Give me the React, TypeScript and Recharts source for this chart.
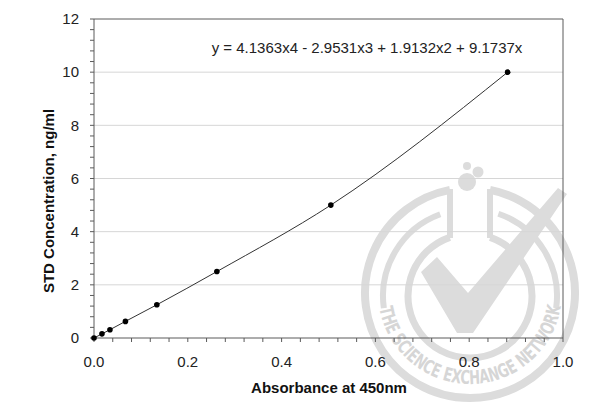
import React from "react";
import {
  CartesianGrid,
  Line,
  LineChart,
  ReferenceLine,
  XAxis,
  YAxis,
} from "recharts";

// Standard curve points.
const absorbance = [0, 0.017, 0.034, 0.067, 0.134, 0.262, 0.505, 0.882];
const concentration = [0, 0.156, 0.3125, 0.625, 1.25, 2.5, 5, 10];

const xTicks = Array.from({ length: 26 }, (_, i) => Math.round(i * 4) / 100);
const yTicks = Array.from({ length: 31 }, (_, i) => Math.round(i * 4) / 10);
const yGrid = [2, 4, 6, 8, 10];

const equation = "y = 4.1363x4 - 2.9531x3 + 1.9132x2 + 9.1737x";
const xTitle = "Absorbance at 450nm";
const yTitle = "STD Concentration, ng/ml";
const watermarkText = "THE SCIENCE EXCHANGE NETWORK";

const data = absorbance.map((a, i) => ({ a, c: concentration[i] }));

const FONT = "'Liberation Sans', Arial, sans-serif";
const AXIS = "#5a5a5a";
const MARK = "#dcdcdc";

const near = (v: number, step: number) =>
  Math.abs(v / step - Math.round(v / step)) < 1e-6;

// arc helper for the watermark (angles in degrees, screen coords)
function arc(cx: number, cy: number, r: number, a0: number, a1: number) {
  const p = (a: number) => {
    const t = (a * Math.PI) / 180;
    return `${cx + r * Math.cos(t)} ${cy + r * Math.sin(t)}`;
  };
  const large = Math.abs(a1 - a0) > 180 ? 1 : 0;
  const sweep = a1 > a0 ? 1 : 0;
  return `M ${p(a0)} A ${r} ${r} 0 ${large} ${sweep} ${p(a1)}`;
}

// faint logo that sits behind the plot
function Watermark() {
  return (
    <svg
      width={610}
      height={410}
      style={{ position: "absolute", left: 0, top: 0 }}
    >
      <defs>
        <path id="wm-text" d={arc(470, 292, 92, 170, 7)} />
      </defs>
      <g fill="none" stroke={MARK}>
        <path d={arc(470, 293, 105, 281, 619)} strokeWidth={8} />
        <path d="M 450 189 L 450 238" strokeWidth={6} />
        <path d="M 490 189 L 490 238" strokeWidth={6} />
        <path d={arc(470, 296, 62, 289, 611)} strokeWidth={7} />
        <path d={arc(470, 296, 87, 250, 172)} strokeWidth={6} />
        <path d={arc(470, 296, 87, 289, 368)} strokeWidth={6} />
      </g>
      <g fill={MARK}>
        <circle cx={467} cy={166} r={4} />
        <circle cx={478} cy={172} r={5.5} />
        <circle cx={467} cy={182} r={9} />
        <polygon points="421,272 437,257 468,293 558,188 567,194 473,333 457,333" />
      </g>
      <text
        fill="#d6d6d6"
        fontFamily="'Liberation Sans Narrow', 'DejaVu Sans Condensed', sans-serif"
        fontWeight="bold"
        fontSize={19}
      >
        <textPath href="#wm-text" textLength={258} lengthAdjust="spacingAndGlyphs">
          {watermarkText}
        </textPath>
      </text>
    </svg>
  );
}

export default function App() {
  return (
    <div style={{ position: "relative", width: 610, height: 410, background: "#fff" }}>
      <style>{`body{margin:0}`}</style>
      <Watermark />
      <div style={{ position: "absolute", left: 0, top: 0 }}>
        <LineChart
          width={610}
          height={410}
          data={data}
          margin={{ top: 19, right: 47, bottom: 42, left: 0 }}
        >
          <CartesianGrid
            horizontal
            vertical={false}
            horizontalValues={yGrid}
            stroke="#d6d6d6"
            strokeWidth={1}
          />
          <XAxis
            dataKey="a"
            type="number"
            domain={[0, 1]}
            ticks={xTicks}
            interval={0}
            height={30}
            tickSize={4}
            tickMargin={14}
            stroke={AXIS}
            tickLine={{ stroke: AXIS }}
            tick={{ fill: "#222", fontSize: 15, fontFamily: FONT }}
            tickFormatter={(v: number) => (near(v, 0.2) ? v.toFixed(1) : "")}
          />
          <YAxis
            type="number"
            domain={[0, 12]}
            ticks={yTicks}
            interval={0}
            width={94}
            tickSize={4}
            tickMargin={11}
            stroke={AXIS}
            tickLine={{ stroke: AXIS }}
            tick={{ fill: "#222", fontSize: 15, fontFamily: FONT }}
            tickFormatter={(v: number) => (near(v, 2) ? String(Math.round(v)) : "")}
          />
          <ReferenceLine y={12} stroke={AXIS} />
          <ReferenceLine x={1} stroke={AXIS} />
          <Line
            type="monotone"
            dataKey="c"
            stroke="#333"
            strokeWidth={1}
            dot={{ r: 2.8, fill: "#000", stroke: "#000", strokeWidth: 0 }}
            isAnimationActive={false}
          />
        </LineChart>
      </div>
      <svg
        width={610}
        height={410}
        style={{ position: "absolute", left: 0, top: 0, pointerEvents: "none" }}
      >
        <text x={367} y={53} textAnchor="middle" fontFamily={FONT} fontSize={15} fill="#222">
          {equation}
        </text>
        <text
          x={329}
          y={393}
          textAnchor="middle"
          fontFamily={FONT}
          fontSize={15}
          fontWeight="bold"
          fill="#111"
        >
          {xTitle}
        </text>
        <text
          x={0}
          y={0}
          transform="translate(54 201) rotate(-90)"
          textAnchor="middle"
          fontFamily={FONT}
          fontSize={15}
          fontWeight="bold"
          fill="#111"
        >
          {yTitle}
        </text>
      </svg>
    </div>
  );
}
